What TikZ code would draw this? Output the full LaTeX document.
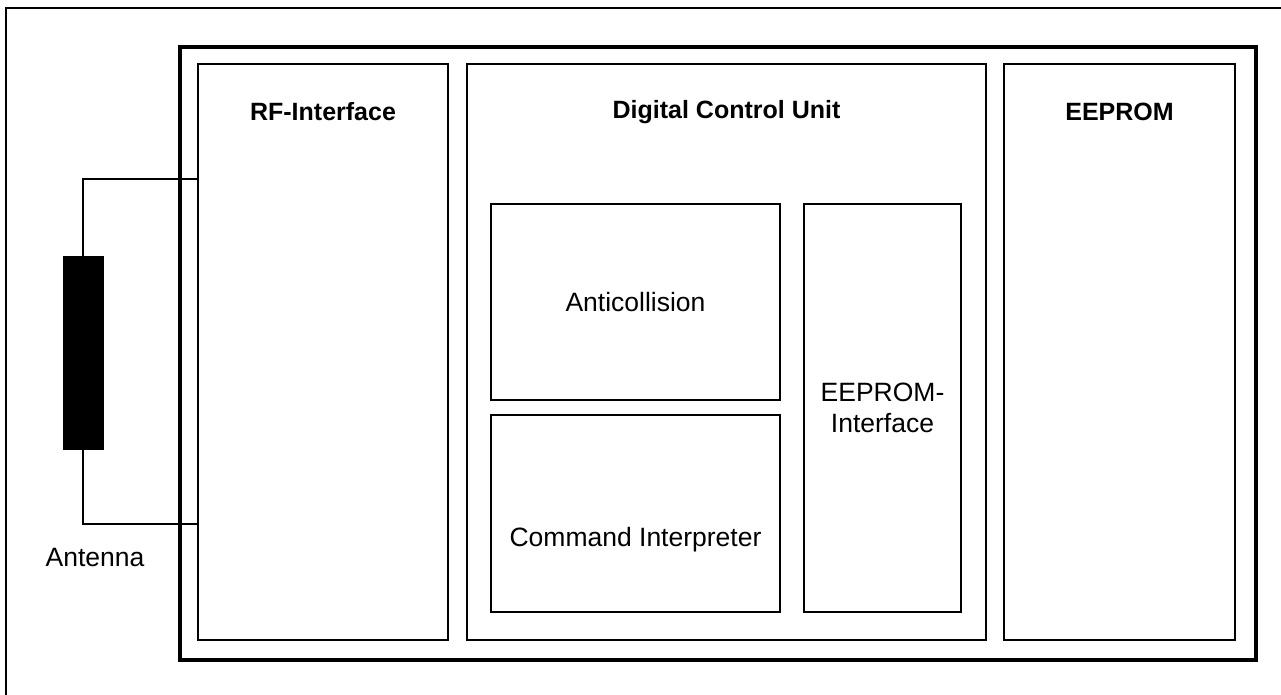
\documentclass[tikz,border=0pt]{standalone}
\usepackage{fontspec}
\setmainfont{Liberation Sans}
\begin{document}
\begin{tikzpicture}[x=1pt,y=-1pt,
  box/.style={draw, line width=1.6pt, rectangle, inner sep=0pt, outer sep=0pt},
  title/.style={font=\fontsize{25}{30}\selectfont\bfseries},
  lbl/.style={font=\fontsize{26.5}{31}\selectfont, align=center},
  wire/.style={line width=1.6pt}]
\useasboundingbox (0,0) rectangle (1281,695);
\clip (0,0) rectangle (1281,695);
% outer frame (right and bottom cut off)
\draw[line width=2pt] (6,8) rectangle (1300,720);
% chip frame
\node[box, line width=4pt, minimum width=1076pt, minimum height=613pt] (chip) at (717.5,353.5) {};
% blocks
\node[box, minimum width=250pt, minimum height=576pt] (rf) at (323,352) {};
\node[box, minimum width=519pt, minimum height=576pt] (dcu) at (726.5,352) {};
\node[box, minimum width=231pt, minimum height=576pt] (ee) at (1119.5,352) {};
\node[box, minimum width=289pt, minimum height=196pt] (anti) at (635.5,302) {};
\node[box, minimum width=289pt, minimum height=197pt] (cmd) at (635.5,513.5) {};
\node[box, minimum width=157pt, minimum height=408pt] (eei) at (882.5,408) {};
% titles
\node[title] (rft) at (323,112) {RF-Interface};
\node[title] (dcut) at (726.5,112) {Digital Control Unit};
\node[title] (eet) at (1119.5,112) {EEPROM};
\node[lbl] (antit) at (635.5,302) {Anticollision};
\node[lbl] (cmdt) at (635.5,540) {Command Interpreter};
\node[lbl] (eeit) at (882.5,408) {EEPROM-\\Interface};
% antenna
\node[draw, fill=black, line width=1pt, minimum width=40pt, minimum height=193pt, inner sep=0pt] (ant) at (83,352.5) {};
\node[lbl] (antl) at (95,558) {Antenna};
\coordinate (wt) at (198,179);
\coordinate (wb) at (198,524);
\draw[wire] (ant.north) |- (wt);
\draw[wire] (ant.south) |- (wb);
\end{tikzpicture}
\end{document}
